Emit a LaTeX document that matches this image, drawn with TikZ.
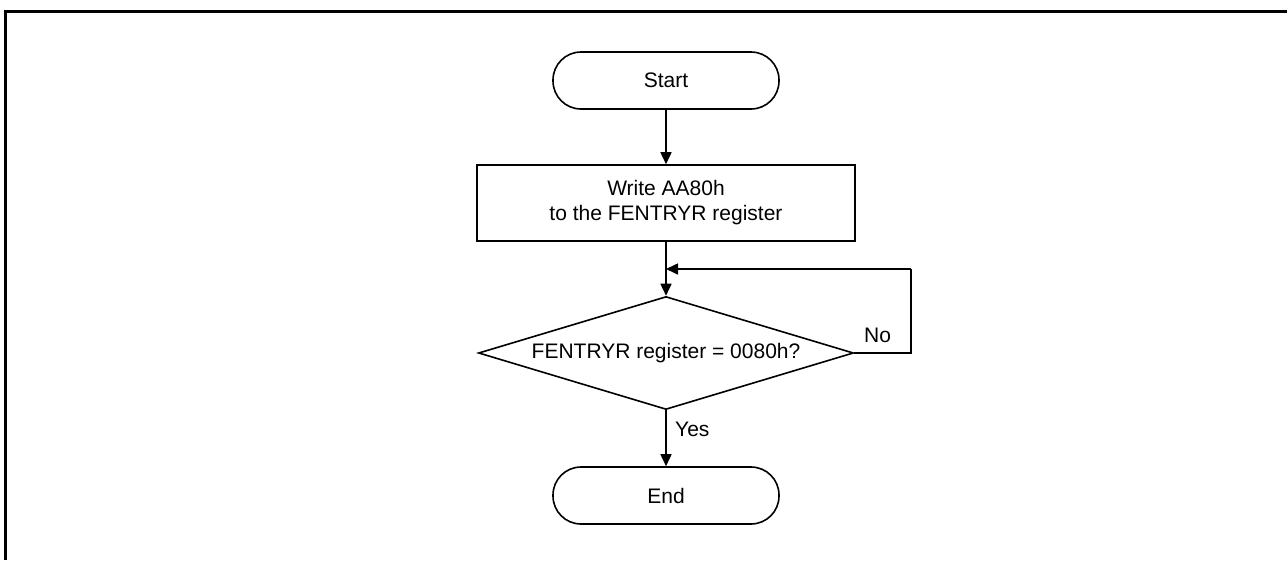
\documentclass[tikz,border=0pt]{standalone}
\usepackage{fontspec}
\setmainfont{Liberation Sans}
\usetikzlibrary{shapes.geometric,arrows.meta}
\tikzset{
  base/.style={draw, line width=1.6pt, inner sep=0pt, font=\fontsize{21}{25}\selectfont, align=center},
  term/.style={base, rectangle, rounded corners=28pt, minimum width=226pt, minimum height=57pt},
  proc/.style={base, rectangle, minimum width=378pt, minimum height=76pt},
  dec/.style={base, diamond, shape aspect=3.3, minimum width=375pt, minimum height=113pt},
  conn/.style={line width=1.6pt, -{Triangle[length=12pt,width=11pt]}},
  lbl/.style={font=\fontsize{21}{25}\selectfont, inner sep=0pt}
}
\begin{document}
\begin{tikzpicture}[x=1pt,y=-1pt]
\useasboundingbox (0,0) rectangle (1287,560);
\draw[line width=3pt] (5.5,560) -- (5.5,11.5) -- (1287,11.5);
\node[term] (start) at (666,80.5) {Start};
\node[proc] (write) at (666,203) {Write AA80h\\to the FENTRYR register};
\node[dec] (check) at (666,353) {FENTRYR register = 0080h?};
\node[term] (end) at (666,495.5) {End};
\coordinate (loopR) at (911,269);
\coordinate (join) at (666,269);
\draw[conn] (start) -- (write);
\draw[conn] (write) -- (check);
\draw[conn] (check) -- (end);
\draw[line width=1.6pt] (check.east) -| (loopR);
\draw[conn] (loopR) -- (join);
\node[lbl, anchor=base] (no) at (877.5,342) {No};
\node[lbl, anchor=base west] (yes) at (675,436) {Yes};
\end{tikzpicture}
\end{document}
